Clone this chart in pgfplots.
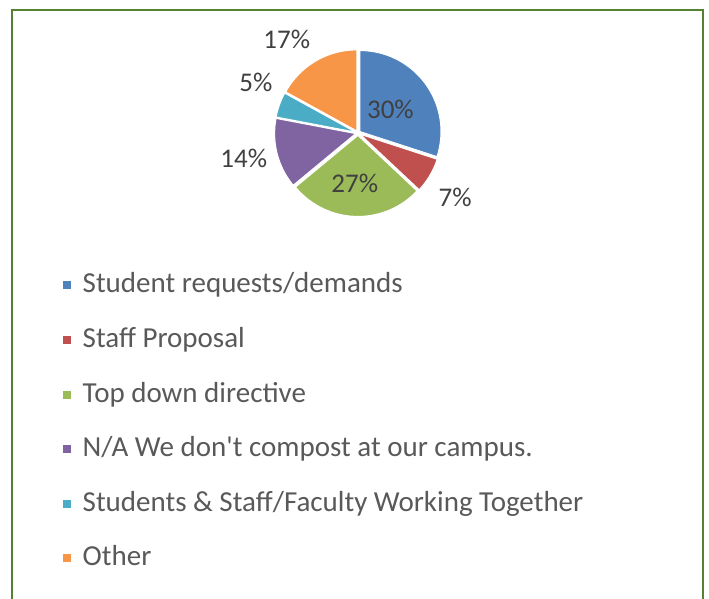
\documentclass[border=0pt]{standalone}
\usepackage{pgfplots}
\pgfplotsset{compat=1.18}
\usepackage{fontspec}
\setmainfont{Carlito}[Ligatures=TeXOff]
\definecolor{cblue}{RGB}{79,129,189}
\definecolor{cred}{RGB}{192,80,77}
\definecolor{cgreen}{RGB}{155,187,89}
\definecolor{cpurple}{RGB}{128,100,162}
\definecolor{cteal}{RGB}{75,172,198}
\definecolor{corange}{RGB}{247,150,70}
\definecolor{framegreen}{RGB}{84,130,53}
\definecolor{lbl}{RGB}{64,64,64}
\definecolor{legtxt}{RGB}{89,89,89}
% shares (percent), clockwise from 12 o'clock
\def\vA{30}\def\vB{7}\def\vC{27}\def\vD{14}\def\vE{5}\def\vF{17}
\begin{document}
\begin{tikzpicture}
\pgfmathsetmacro\sA{90}
\pgfmathsetmacro\sB{\sA-3.6*\vA}
\pgfmathsetmacro\sC{\sB-3.6*\vB}
\pgfmathsetmacro\sD{\sC-3.6*\vC}
\pgfmathsetmacro\sE{\sD-3.6*\vD}
\pgfmathsetmacro\sF{\sE-3.6*\vE}
\pgfmathsetmacro\sG{\sF-3.6*\vF}
\def\ex{0.03}
\pgfmathsetmacro\xA{\ex*cos((\sA+\sB)/2)}\pgfmathsetmacro\yA{\ex*sin((\sA+\sB)/2)}
\pgfmathsetmacro\xB{\ex*cos((\sB+\sC)/2)}\pgfmathsetmacro\yB{\ex*sin((\sB+\sC)/2)}
\pgfmathsetmacro\xC{\ex*cos((\sC+\sD)/2)}\pgfmathsetmacro\yC{\ex*sin((\sC+\sD)/2)}
\pgfmathsetmacro\xD{\ex*cos((\sD+\sE)/2)}\pgfmathsetmacro\yD{\ex*sin((\sD+\sE)/2)}
\pgfmathsetmacro\xE{\ex*cos((\sE+\sF)/2)}\pgfmathsetmacro\yE{\ex*sin((\sE+\sF)/2)}
\pgfmathsetmacro\xF{\ex*cos((\sF+\sG)/2)}\pgfmathsetmacro\yF{\ex*sin((\sF+\sG)/2)}
\useasboundingbox (0pt,0pt) rectangle (709pt,599pt);
\draw[framegreen, line width=2pt] (12.3pt,-2pt) -- (12.3pt,589pt) -- (703.3pt,589pt) -- (703.3pt,-2pt);
\begin{axis}[
  at={(358pt,466pt)}, anchor=center,
  width=162pt, height=162pt, scale only axis,
  xmin=-1, xmax=1, ymin=-1, ymax=1,
  hide axis, clip=false,
  legend style={at={(-1.321,-0.362)}, anchor=north west, draw=none, fill=none,
    font=\fontsize{29}{34}\selectfont\color{legtxt}, row sep=27.6pt,
    inner sep=0pt, legend cell align=left,
    nodes={inner sep=0pt, text height=20pt, text depth=7pt}},
  legend image code/.code={\fill[#1,draw=none] (0pt,-3pt) rectangle (8pt,5pt); \path (19pt,0pt);},
]
\addplot[fill=cblue, draw=white, line width=1pt, domain=\sB:\sA, samples=60]
  ({\xA+cos(x)},{\yA+sin(x)}) -- (axis cs:\xA,\yA) -- cycle;
\addlegendentry{Student requests/demands}
\addplot[fill=cred, draw=white, line width=1pt, domain=\sC:\sB, samples=20]
  ({\xB+cos(x)},{\yB+sin(x)}) -- (axis cs:\xB,\yB) -- cycle;
\addlegendentry{Staff Proposal}
\addplot[fill=cgreen, draw=white, line width=1pt, domain=\sD:\sC, samples=60]
  ({\xC+cos(x)},{\yC+sin(x)}) -- (axis cs:\xC,\yC) -- cycle;
\addlegendentry{Top down directive}
\addplot[fill=cpurple, draw=white, line width=1pt, domain=\sE:\sD, samples=30]
  ({\xD+cos(x)},{\yD+sin(x)}) -- (axis cs:\xD,\yD) -- cycle;
\addlegendentry{N/A We don't compost at our campus.}
\addplot[fill=cteal, draw=white, line width=1pt, domain=\sF:\sE, samples=15]
  ({\xE+cos(x)},{\yE+sin(x)}) -- (axis cs:\xE,\yE) -- cycle;
\addlegendentry{Students \& Staff/Faculty Working Together}
\addplot[fill=corange, draw=white, line width=1pt, domain=\sG:\sF, samples=40]
  ({\xF+cos(x)},{\yF+sin(x)}) -- (axis cs:\xF,\yF) -- cycle;
\addlegendentry{Other}
\begin{scope}[font=\fontsize{27}{32}\selectfont, text=lbl]
\node at (axis cs:0.40,0.29) {30\%};
\node at (axis cs:1.20,-0.79) {7\%};
\node at (axis cs:-0.04,-0.62) {27\%};
\node at (axis cs:-1.41,-0.31) {14\%};
\node at (axis cs:-1.26,0.62) {5\%};
\node at (axis cs:-0.88,1.16) {17\%};
\end{scope}
\end{axis}
\end{tikzpicture}
\end{document}
